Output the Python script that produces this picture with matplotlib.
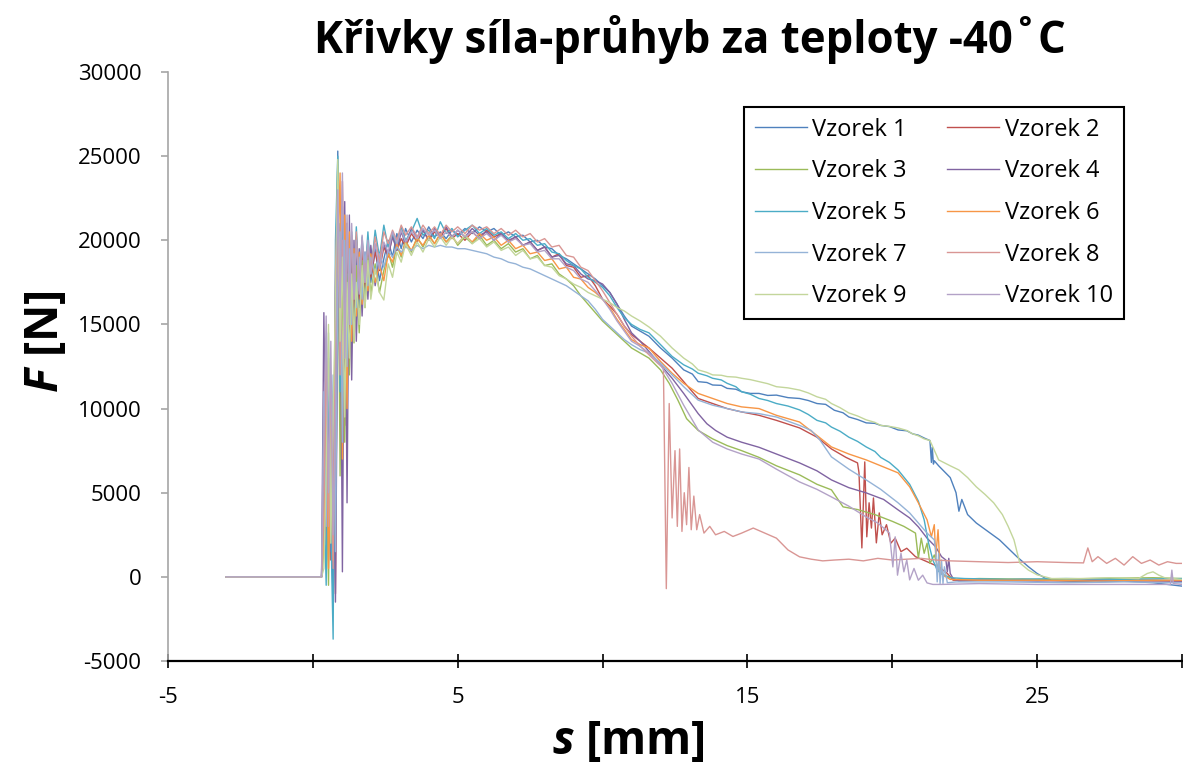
import matplotlib
matplotlib.use("Agg")
import matplotlib.pyplot as plt

plt.rcParams['font.family'] = ['Open Sans', 'DejaVu Sans']
plt.rcParams['mathtext.fontset'] = 'custom'
plt.rcParams['mathtext.bfit'] = 'Open Sans:italic:bold'

TITLE = "Křivky síla-průhyb za teploty -40˚C"
LABELS = ["Vzorek %d" % i for i in range(1, 11)]
COLORS = ["#4F81BD", "#C0504D", "#9BBB59", "#8064A2", "#4BACC6",
          "#F79646", "#95B3D7", "#D99694", "#C3D69B", "#B3A2C7"]

# common displacement grid for the first part of every test [mm]
HEAD_S = [-3.0, -1.5, 0.30, 0.38, 0.46, 0.54, 0.62, 0.70, 0.78, 0.86, 0.94, 1.02,
          1.10, 1.18, 1.26, 1.34, 1.42, 1.50, 1.60, 1.70, 1.80, 1.90, 2.00,
          2.15, 2.30, 2.45, 2.60, 2.75, 2.90, 3.05,
          3.20, 3.40, 3.60, 3.80, 4.00, 4.20, 4.40, 4.60, 4.80, 5.00,
          5.25, 5.50, 5.75, 6.00, 6.25, 6.50, 6.75, 7.00, 7.25, 7.50, 7.75, 8.00,
          8.25, 8.50, 8.75, 9.00, 9.25, 9.50, 9.75, 10.00, 10.25, 10.50, 10.75, 11.00]

# forces [N]
V1_HEAD = [0, 0, 0, 3000, 9000, 1000, 6000, -2000, 12000, 25300, 9000, 22000, 11000, 20500,
           13500, 20000, 15000, 19600, 16000, 19900, 16800, 19700, 17500,
           19500, 17600, 18900, 20000, 19000, 20400, 19500,
           20700, 19900, 20600, 20100, 20800, 20200, 20500, 20100, 20600, 20300,
           20700, 20400, 20800, 20500, 20700, 20300, 20500, 20200, 20300, 19900, 20000, 19600,
           19500, 19100, 18900, 18600, 18300, 18000, 17700, 17300, 16900, 16200, 15500, 14900]
V1_TAIL_S = [11.3, 11.6, 12.0, 12.4, 12.8, 13.1, 13.3, 13.6, 13.8, 14.1, 14.3, 14.6, 14.8, 15.1,
             15.4, 15.7, 16.0, 16.4, 16.8, 17.1, 17.4, 17.7, 18.0, 18.3, 18.5, 18.8, 19.1, 19.4,
             19.6, 19.9, 20.2, 20.5, 20.7, 20.9, 21.1, 21.3, 21.35, 21.38, 21.42, 21.45, 21.6,
             22.0, 22.2, 22.3, 22.4, 22.6, 22.9, 23.3, 23.7, 24.0, 24.3, 24.7, 25.0, 25.4, 26.0,
             27.0, 28.0, 29.0, 30.0]
V1_TAIL_F = [14600, 14300, 13600, 13000, 12300, 12050, 11600, 11550, 11400, 11380, 11200, 11150,
             11000, 10900, 10900, 10780, 10800, 10650, 10600, 10480, 10300, 10250, 9900, 9750,
             9500, 9350, 9150, 9120, 9000, 8930, 8730, 8680, 8500, 8420, 8250, 8100, 6800, 7700,
             6700, 6900, 6600, 5900, 5000, 3900, 4600, 3700, 3200, 2700, 2200, 1700, 1200, 600,
             200, -200, -250, -300, -250, -350, -550]

V2_HEAD = [0, 0, 0, 8000, 2000, 12000, 1000, 9000, -1000, 21000, 13000, 23500, 9000, 21000,
           14000, 20000, 16000, 20200, 16500, 19500, 17200, 20000, 17800,
           19300, 18200, 19600, 19000, 20300, 19400, 20100,
           19600, 20400, 19900, 20600, 20000, 20500, 20200, 20700, 20100, 20400,
           20000, 20500, 20100, 20600, 20200, 20400, 19900, 20200, 19700, 19900, 19400, 19600,
           19000, 19200, 18500, 18400, 17800, 17900, 17300, 16500, 16100, 15600, 14900, 14400]
V2_TAIL_S = [11.3, 11.6, 12.0, 12.4, 12.8, 13.3, 13.8, 14.3, 14.8, 15.4, 16.0, 16.8, 17.4, 17.9,
             18.4, 18.8, 18.85, 18.95, 19.05, 19.12, 19.2, 19.28, 19.35, 19.45, 19.55, 19.65,
             19.8, 19.95, 20.1, 20.3, 20.5, 20.8, 21.2, 21.6, 21.9, 22.1, 23.0, 24.5, 26.0,
             27.5, 29.0, 30.0]
V2_TAIL_F = [14000, 13600, 13000, 12400, 11600, 10600, 10300, 10000, 9800, 9600, 9300, 8850,
             8300, 7600, 7100, 6770, 6200, 1720, 6830, 2380, 4400, 2900, 4690, 2020, 3800, 2500,
             3100, 2000, 2300, 1500, 1700, 1200, 900, 600, 200, -200, -200, -150, -200,
             -200, -250, -250]

V3_HEAD = [0, 0, 0, 1500, 7000, -500, 10000, 2000, 17000, 24500, 6000, 19000, 8000, 18000,
           12000, 17500, 13900, 18500, 14500, 18800, 16000, 19000, 16800,
           18600, 16900, 18200, 19300, 18400, 19700, 19000,
           20000, 19300, 20200, 19600, 20300, 19800, 20400, 19900, 20300, 19700,
           20200, 19800, 20300, 19700, 20000, 19500, 19800, 19300, 19500, 18900, 19100, 18500,
           18600, 18000, 17700, 17300, 16700, 16200, 15700, 15200, 14800, 14400, 14000, 13600]
V3_TAIL_S = [11.3, 11.6, 12.0, 12.3, 12.6, 12.9, 13.3, 13.8, 14.3, 14.8, 15.4, 16.0, 16.8, 17.4,
             17.9, 18.3, 18.8, 19.4, 20.0, 20.4, 20.8, 20.9, 21.0, 21.1, 21.2, 21.3, 21.45,
             21.6, 21.8, 22.2, 23.0, 25.0, 27.0, 29.0, 30.0]
V3_TAIL_F = [13300, 13000, 12300, 11500, 10500, 9400, 8700, 8200, 7800, 7500, 7100, 6600, 6060,
             5500, 5170, 4160, 4000, 3700, 3300, 3000, 2600, 1100, 2300, 1400, 2000, 800, 1300,
             400, 100, -150, -100, -150, -100, -50, -100]

V4_HEAD = [0, 0, 0, 15700, 4000, 11000, 1500, 8000, -1500, 16000, 21000, 300, 22300, 4400,
           21500, 11700, 20000, 14000, 19500, 15500, 19300, 16500, 19700,
           17300, 18800, 19800, 19100, 20200, 19400, 20500,
           19800, 20700, 20200, 20600, 20000, 20700, 20300, 20800, 20200, 20600,
           20200, 20700, 20300, 20500, 20000, 20400, 20000, 20200, 19700, 19900, 19400, 19600,
           19000, 19100, 18600, 18500, 18000, 17700, 17600, 17400, 16900, 16200, 15300, 14500]
V4_TAIL_S = [11.3, 11.6, 12.0, 12.4, 12.8, 13.3, 13.6, 13.9, 14.3, 14.8, 15.4, 16.0, 16.8, 17.4,
             17.9, 18.5, 19.1, 19.7, 20.2, 20.6, 20.9, 21.2, 21.5, 21.7, 21.85, 21.9, 21.95,
             22.0, 22.1, 22.3, 23.0, 25.0, 27.0, 29.0, 30.0]
V4_TAIL_F = [14000, 13400, 12600, 11800, 10900, 9700, 9100, 8700, 8300, 8000, 7700, 7300, 6770,
             6300, 5760, 5300, 4990, 4600, 3980, 3500, 2970, 2300, 1780, 1200, 1000, 300, 1100,
             200, -100, -250, -200, -250, -200, -200, -250]

V5_HEAD = [0, 0, 0, 5000, -500, 13000, 3000, -3700, 20000, 25000, 11000, 21500, 14500, 21000,
           15500, 20500, 17000, 20800, 17300, 20200, 17800, 20500, 18000,
           20600, 19000, 20900, 19600, 20400, 19700, 20800,
           20000, 20500, 21300, 20300, 20600, 20100, 21100, 20400, 20700, 20200,
           20600, 20900, 20400, 20700, 20300, 20500, 20100, 20400, 20000, 20100, 19700, 19800,
           19300, 19200, 18800, 18500, 18300, 17800, 17500, 17200, 16700, 16000, 15400, 15000]
V5_TAIL_S = [11.3, 11.6, 12.0, 12.4, 12.8, 13.1, 13.3, 13.6, 13.8, 14.1, 14.3, 14.6, 14.8, 15.1,
             15.4, 15.7, 16.0, 16.4, 16.8, 17.1, 17.4, 17.7, 17.9, 18.2, 18.5, 18.8, 19.1, 19.4,
             19.6, 19.9, 20.2, 20.6, 20.9, 21.1, 21.25, 21.4, 21.55, 21.75, 22.0, 22.5, 24.0,
             26.0, 28.0, 30.0]
V5_TAIL_F = [14700, 14500, 13800, 13100, 12600, 12350, 12100, 11950, 11800, 11700, 11500, 11300,
             11000, 10850, 10600, 10480, 10300, 10150, 9920, 9650, 9300, 9150, 8900, 8650, 8300,
             8050, 7720, 7450, 7100, 6800, 6350, 5500, 4500, 3390, 2020, 1000, 400, 100, -50,
             -100, -150, -100, -150, -100]

V6_HEAD = [0, 0, 0, 2000, 10000, 500, 7000, 1000, 15000, 19000, 24000, 7000, 21500, 10000,
           20500, 14000, 19500, 15500, 19300, 16200, 19000, 17000, 19200,
           17500, 18500, 17600, 19200, 18700, 19800, 19100,
           19900, 19400, 20100, 19700, 20300, 19800, 20400, 19900, 20200, 19800,
           20300, 19900, 20400, 20000, 20200, 19700, 20000, 19500, 19700, 19200, 19300, 18800,
           18900, 18300, 18400, 17800, 17700, 17200, 16900, 16500, 16000, 15300, 14700, 14100]
V6_TAIL_S = [11.3, 11.6, 12.0, 12.4, 12.8, 13.3, 13.8, 14.3, 14.8, 15.4, 16.0, 16.8, 17.4, 17.9,
             18.5, 19.1, 19.6, 20.2, 20.6, 20.9, 21.2, 21.35, 21.45, 21.5, 21.58, 21.65, 21.75,
             22.0, 23.0, 25.0, 27.0, 29.0, 30.0]
V6_TAIL_F = [13800, 13600, 12800, 12100, 11500, 10900, 10600, 10300, 10100, 10000, 9600, 9200,
             8400, 7720, 7300, 6950, 6600, 6180, 5350, 4400, 3390, 2380, 3100, 1190, 2800, 500,
             100, -150, -200, -200, -250, -200, -200]

V7_HEAD = [0, 0, 0, 11000, 3000, 14500, 5000, 12000, 1500, 17500, 20500, 8000, 20000, 12500,
           19500, 15000, 19200, 16000, 19000, 16500, 19300, 17300, 19000,
           18000, 19200, 18400, 19400, 19000, 19600, 19300,
           19600, 19400, 19700, 19500, 19700, 19600, 19700, 19600, 19600, 19500,
           19500, 19400, 19300, 19200, 19000, 18900, 18700, 18600, 18400, 18300, 18100, 17900,
           17700, 17500, 17300, 17000, 16700, 16400, 15900, 15300, 14900, 14500, 14100, 13800]
V7_TAIL_S = [11.3, 11.6, 12.0, 12.4, 12.8, 13.3, 13.8, 14.3, 14.8, 15.4, 16.0, 16.8, 17.2, 17.5,
             17.9, 18.5, 19.1, 19.6, 20.2, 20.6, 20.9, 21.2, 21.45, 21.5, 21.55, 21.6, 21.65,
             21.7, 21.75, 21.8, 21.9, 22.2, 24.0, 26.0, 28.0, 30.0]
V7_TAIL_F = [13500, 13300, 12700, 12000, 11300, 10500, 10200, 10000, 9800, 9700, 9500, 9000,
             8700, 8140, 7130, 6400, 5760, 5200, 4400, 3800, 3200, 2600, 2200, 1600, -300, 1400,
             -400, 1000, -400, 600, -350, -300, -300, -350, -300, -350]

V8_HEAD = [0, 0, 0, 4000, 13000, 3000, 11000, 500, 18000, 23500, 12000, 20000, 13000, 21000,
           16000, 20300, 16500, 20500, 17000, 20000, 17500, 19800, 18200,
           20200, 18700, 20500, 19800, 20600, 20000, 20900,
           20300, 20800, 20200, 20900, 20400, 20800, 20300, 20900, 20500, 20800,
           20400, 20900, 20600, 20800, 20400, 20700, 20300, 20600, 20200, 20400, 19900, 20100,
           19600, 19700, 19100, 19000, 18400, 18200, 17600, 17000, 16300, 15600, 14900, 14300]
V8_TAIL_S = [11.3, 11.6, 11.9, 12.1, 12.2, 12.3, 12.4, 12.5, 12.58, 12.66, 12.74, 12.82, 12.9,
             12.98, 13.06, 13.15, 13.25, 13.35, 13.5, 13.7, 13.9, 14.2, 14.5, 14.8, 15.2, 15.6,
             16.0, 16.4, 16.8, 17.2, 17.6, 18.0, 18.5, 19.0, 19.5, 20.0, 20.5, 21.0, 21.5, 22.0,
             23.0, 24.0, 25.0, 26.0, 26.6, 26.75, 26.9, 27.1, 27.4, 27.7, 28.0, 28.3, 28.6,
             28.9, 29.2, 29.5, 29.8, 30.0]
V8_TAIL_F = [13700, 13200, 12700, 12400, -700, 10300, 3500, 7500, 3000, 7600, 2700, 5000, 3100,
             6500, 2800, 4800, 2800, 3700, 2600, 3000, 2500, 2700, 2400, 2600, 2900, 2600,
             2300, 1600, 1190, 1050, 950, 1000, 1050, 950, 1100, 1000, 1050, 1100, 1000, 950,
             900, 850, 900, 850, 830, 1720, 900, 1200, 800, 1100, 700, 1200, 800,
             1000, 700, 900, 800, 800]

V9_HEAD = [0, 0, 0, 500, 6000, 15000, 2000, 10000, 16000, 24800, 14000, 19000, 9500, 17500,
           13000, 18000, 14000, 17500, 15000, 18500, 16000, 18800, 16500,
           18300, 16900, 16450, 18600, 17800, 19300, 18700,
           19800, 19100, 19900, 19300, 20100, 19600, 20200, 19700, 20200, 19800,
           20300, 19800, 20100, 19600, 19900, 19400, 19600, 19100, 19400, 18900, 19000, 18500,
           18400, 17900, 17700, 17400, 17200, 16900, 16700, 16500, 16300, 16000, 15800, 15500]
V9_TAIL_S = [11.3, 11.6, 12.0, 12.4, 12.8, 13.1, 13.3, 13.6, 13.8, 14.1, 14.3, 14.6, 14.8, 15.1,
             15.4, 15.7, 16.0, 16.4, 16.8, 17.1, 17.4, 17.7, 17.9, 18.2, 18.5, 18.8, 19.1, 19.4,
             19.6, 19.9, 20.2, 20.5, 20.7, 20.9, 21.1, 21.3, 21.6, 22.0, 22.3, 22.6, 22.9, 23.2,
             23.5, 23.8, 24.0, 24.2, 24.4, 24.7, 25.0, 25.5, 26.5, 27.5, 28.5, 28.8, 29.0,
             29.2, 29.4, 29.7, 30.0]
V9_TAIL_F = [15200, 14850, 14300, 13600, 13000, 12650, 12300, 12150, 12000, 11980, 11900, 11870,
             11800, 11720, 11600, 11480, 11300, 11230, 11100, 10930, 10700, 10550, 10300, 10050,
             9740, 9560, 9330, 9180, 9000, 8940, 8850, 8700, 8500, 8380, 8200, 8100, 6950, 6600,
             6350, 5900, 5350, 4900, 4400, 3700, 3000, 2200, 830, 400, 120, -100, -100, -50,
             -100, 200, 300, 100, -50, -100, -150]

V10_HEAD = [0, 0, 0, 9000, 15500, 5000, 14000, 2500, 10000, 23000, 16000, 24000, 13000, 21500,
            15000, 21000, 16500, 20000, 16800, 20300, 17500, 20000, 18000,
            19800, 18300, 19900, 19300, 20500, 19800, 20600,
            19900, 20500, 20100, 20700, 20300, 20600, 20100, 20500, 20200, 20600,
            20200, 20500, 20100, 20400, 20000, 20300, 19900, 20100, 19700, 19800, 19300, 19400,
            18900, 18900, 18400, 18200, 17700, 17500, 17000, 16500, 15900, 15200, 14600, 14000]
V10_TAIL_S = [11.3, 11.6, 12.0, 12.4, 12.8, 13.3, 13.8, 14.3, 14.8, 15.4, 16.0, 16.8, 17.4,
              17.9, 18.5, 19.1, 19.5, 19.9, 20.02, 20.1, 20.18, 20.3, 20.4, 20.5, 20.6, 20.75,
              20.9, 21.05, 21.2, 21.4, 21.7, 23.0, 25.0, 27.0, 28.5, 29.6, 29.65, 29.7, 30.0]
V10_TAIL_F = [13700, 13300, 12600, 11500, 10200, 8730, 8000, 7600, 7300, 7000, 6400, 5640, 5200,
              4750, 4200, 3560, 3200, 2610, 590, 2380, 100, 1400, 300, 1000, -180, 500,
              -200, 100, -360, -450, -450, -400, -450, -450, -450, -450, 400, -400, -450]

SERIES = [(V1_HEAD, V1_TAIL_S, V1_TAIL_F), (V2_HEAD, V2_TAIL_S, V2_TAIL_F),
          (V3_HEAD, V3_TAIL_S, V3_TAIL_F), (V4_HEAD, V4_TAIL_S, V4_TAIL_F),
          (V5_HEAD, V5_TAIL_S, V5_TAIL_F), (V6_HEAD, V6_TAIL_S, V6_TAIL_F),
          (V7_HEAD, V7_TAIL_S, V7_TAIL_F), (V8_HEAD, V8_TAIL_S, V8_TAIL_F),
          (V9_HEAD, V9_TAIL_S, V9_TAIL_F), (V10_HEAD, V10_TAIL_S, V10_TAIL_F)]

X_TICKS = [-5, 0, 5, 10, 15, 20, 25, 30]
X_TICK_LABELS = ["-5", "", "5", "", "15", "", "25", ""]
Y_TICKS = [-5000, 0, 5000, 10000, 15000, 20000, 25000, 30000]


fig = plt.figure(figsize=(11.83, 7.69), dpi=100)
ax = fig.add_axes([168 / 1183, 1 - 661 / 769, 1014 / 1183, 589 / 769])

lines = []
for (head, tail_s, tail_f), color, label in zip(SERIES, COLORS, LABELS):
    line, = ax.plot(HEAD_S + tail_s, head + tail_f, color=color, lw=1.0, label=label)
    lines.append(line)

ax.set_xlim(-5, 30)
ax.set_ylim(-5000, 30000)
ax.set_xticks(X_TICKS)
ax.set_xticklabels(X_TICK_LABELS)
ax.set_yticks(Y_TICKS)
ax.set_yticklabels([str(v) for v in Y_TICKS])

ax.spines['top'].set_visible(False)
ax.spines['right'].set_visible(False)
ax.spines['left'].set_color('#A6A6A6')
ax.spines['left'].set_linewidth(1.2)
ax.spines['bottom'].set_color('black')
ax.spines['bottom'].set_linewidth(1.6)
ax.tick_params(axis='y', direction='out', length=5, width=1.2, color='#A6A6A6',
               labelsize=16, pad=14)
ax.tick_params(axis='x', direction='inout', length=10, width=1.2, color='black',
               labelsize=16, pad=14)

# legend in two columns, filled row by row like the original
order = [0, 2, 4, 6, 8, 1, 3, 5, 7, 9]
leg = ax.legend([lines[i] for i in order], [LABELS[i] for i in order], ncol=2,
                loc='upper left', bbox_to_anchor=(576 / 1014, 554 / 589),
                borderaxespad=0, fontsize=17, handlelength=2.2, handletextpad=0.25,
                columnspacing=1.7, labelspacing=0.75, borderpad=0.45,
                fancybox=False, framealpha=1)
leg.get_frame().set_edgecolor('black')
leg.get_frame().set_linewidth(1.5)

fig.text(690 / 1183, 1 - 40 / 769, TITLE, ha='center', va='center',
         fontsize=31.5, fontweight='bold')
fig.text(628 / 1183, 1 - 742 / 769, r'$\mathbfit{s}$ [mm]', ha='center', va='center',
         fontsize=33, fontweight='bold')
fig.text(45 / 1183, 1 - 342 / 769, r'$\mathbfit{F}$ [N]', ha='center', va='center',
         fontsize=33, fontweight='bold', rotation=90)

fig.savefig('out.png', dpi=100)
